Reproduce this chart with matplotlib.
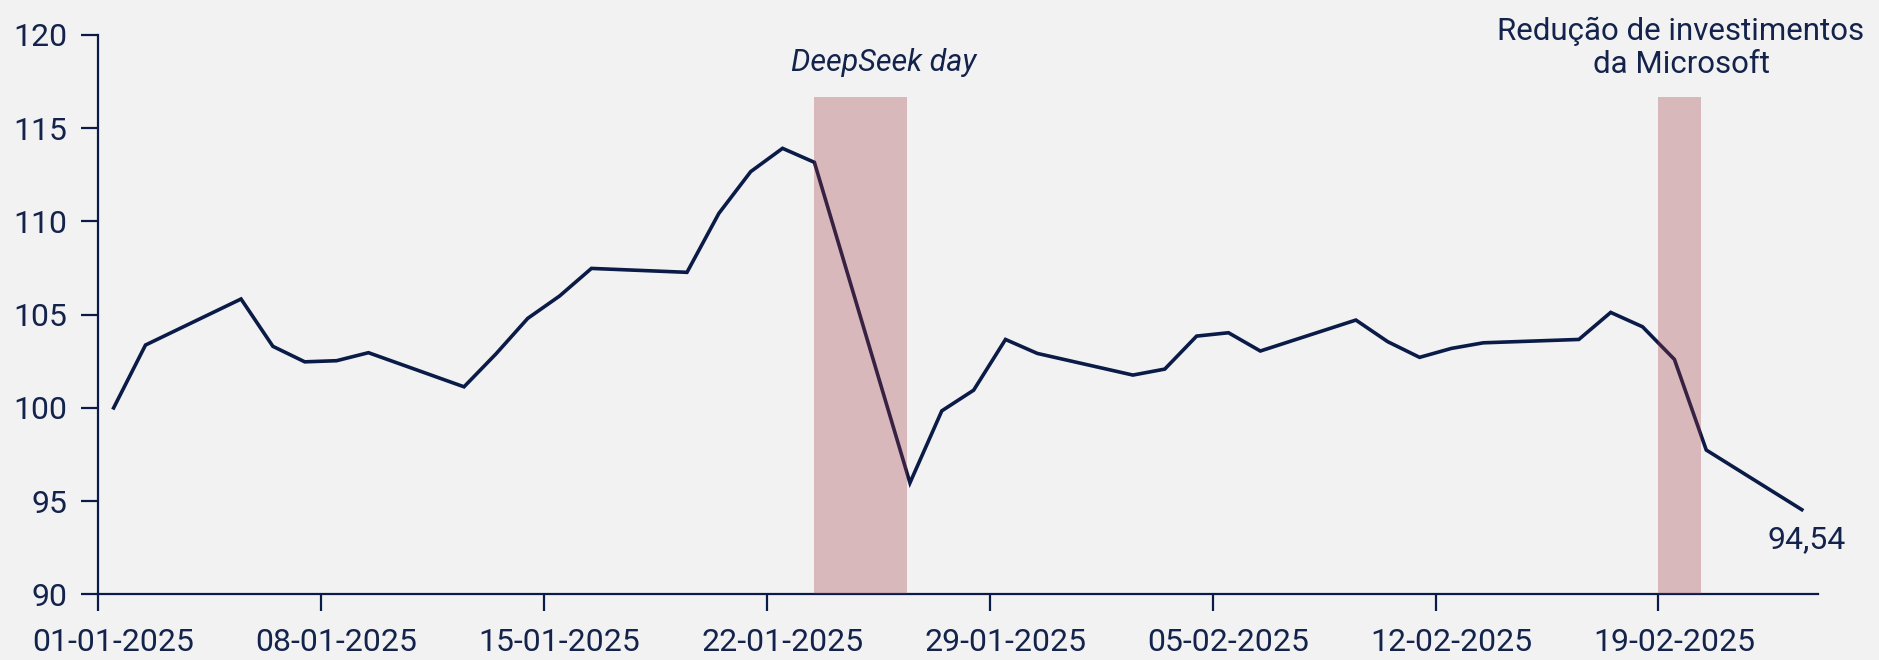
import pandas as pd
import matplotlib
matplotlib.use("Agg")
import matplotlib.pyplot as plt
import matplotlib.dates as mdates

# index values (base 100)
dates = ["2025-01-01", "2025-01-02", "2025-01-05", "2025-01-06", "2025-01-07",
         "2025-01-08", "2025-01-09", "2025-01-12", "2025-01-13", "2025-01-14",
         "2025-01-15", "2025-01-16", "2025-01-19", "2025-01-20", "2025-01-21",
         "2025-01-22", "2025-01-23", "2025-01-26", "2025-01-27", "2025-01-28",
         "2025-01-29", "2025-01-30", "2025-02-02", "2025-02-03", "2025-02-04",
         "2025-02-05", "2025-02-06", "2025-02-09", "2025-02-10", "2025-02-11",
         "2025-02-12", "2025-02-13", "2025-02-16", "2025-02-17", "2025-02-18",
         "2025-02-19", "2025-02-20", "2025-02-23"]
values = [100.0, 103.37, 105.84, 103.3, 102.47,
          102.53, 102.96, 101.13, 102.89, 104.8,
          106.0, 107.48, 107.27, 110.43, 112.67,
          113.92, 113.17, 95.98, 99.84, 100.95,
          103.67, 102.92, 101.76, 102.08, 103.85,
          104.03, 103.05, 104.71, 103.55, 102.71,
          103.19, 103.49, 103.67, 105.12, 104.35,
          102.6, 97.74, 94.54]

tick_labels = ["01-01-2025", "08-01-2025", "15-01-2025", "22-01-2025",
               "29-01-2025", "05-02-2025", "12-02-2025", "19-02-2025"]

# shaded event windows
event_start = ["2025-01-23 00:00", "2025-02-18 12:00"]
event_end = ["2025-01-25 22:00", "2025-02-19 20:00"]
event_top = 116.7

navy = "#0B1B47"
txt = "#14234B"
bg = "#F2F2F2"

plt.rcParams["font.family"] = ["Roboto", "DejaVu Sans"]

x = mdates.date2num(pd.to_datetime(dates))
lab_pos = mdates.date2num(pd.to_datetime(tick_labels, format="%d-%m-%Y"))
x_start = lab_pos[0] - 0.5
x_end = x[-1] + 0.5

fig = plt.figure(figsize=(18.79, 6.60), dpi=100, facecolor=bg)
ax = fig.add_axes([0.052, 0.0995, 0.9154, 0.8475])
ax.set_facecolor(bg)

ax.plot(x, values, color=navy, lw=2.6, zorder=2, solid_joinstyle="miter")

for s, e in zip(event_start, event_end):
    xs = mdates.date2num(pd.Timestamp(s))
    xe = mdates.date2num(pd.Timestamp(e))
    ax.fill_between([xs, xe], 90, event_top, color="#9F343B", alpha=0.3,
                    lw=0, zorder=3)

ax.set_xlim(x_start, x_end)
ax.set_ylim(90, 120)
ax.set_yticks(range(90, 121, 5))

# tick marks sit half a day before each labelled date
ax.set_xticks([x_start] + [p - 0.5 for p in lab_pos[1:]])
ax.set_xticklabels([])
ax.set_xticks(lab_pos, minor=True)
ax.set_xticklabels(tick_labels, minor=True)

for side in ["top", "right"]:
    ax.spines[side].set_visible(False)
for side in ["left", "bottom"]:
    ax.spines[side].set_color(navy)
    ax.spines[side].set_linewidth(1.6)

ax.tick_params(axis="both", which="major", direction="out", length=12,
               width=1.6, color=navy, labelcolor=txt, labelsize=23)
ax.tick_params(axis="x", which="minor", length=0, labelcolor=txt,
               labelsize=23, pad=24)
ax.tick_params(axis="y", pad=10)

ax.text(mdates.date2num(pd.Timestamp("2025-01-25 04:00")), 118.5,
        "DeepSeek day", ha="center", va="center", fontsize=22,
        style="italic", color=txt)
ax.text(mdates.date2num(pd.Timestamp("2025-02-19 05:00")), 119.3,
        "Redução de investimentos\nda Microsoft", ha="center", va="center",
        fontsize=22.5, color=txt, linespacing=1.15, clip_on=False)
ax.text(x[-1] + 0.15, 92.95, "94,54", ha="center", va="center",
        fontsize=23, color=txt)

fig.savefig("out.png", dpi=100, facecolor=bg)
